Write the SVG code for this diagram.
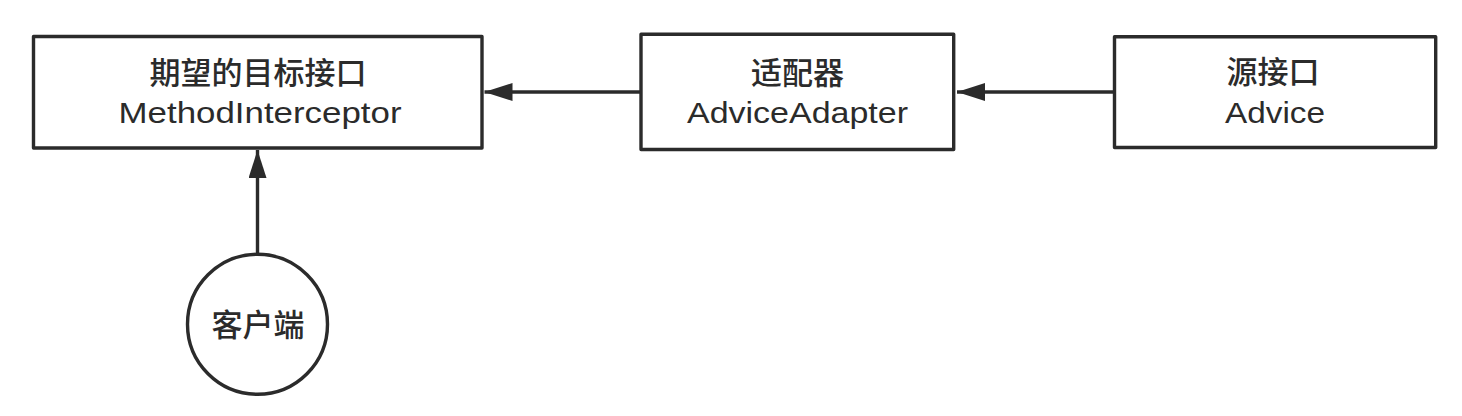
<svg xmlns="http://www.w3.org/2000/svg" width="1462" height="416" viewBox="0 0 1462 416">
<defs>
<style>
.box{fill:#ffffff;stroke:#2b2b2b;stroke-width:3.4;stroke-linejoin:round}
.cn{font-family:"Noto Sans CJK SC","Liberation Sans",sans-serif;font-size:31px;font-weight:500;fill:#2b2b2b;text-anchor:middle}
.en{font-family:"Liberation Sans","Noto Sans CJK SC",sans-serif;font-size:29px;fill:#2b2b2b;text-anchor:middle}
.edge{fill:none;stroke:#2b2b2b;stroke-width:3.4}
</style>
<marker id="arr" viewBox="0 0 28 18" refX="28" refY="9" markerWidth="28" markerHeight="18" markerUnits="userSpaceOnUse" orient="auto">
<path d="M0,0 L28,9 L0,18 Z" fill="#2b2b2b"/>
</marker>
</defs>
<rect width="1462" height="416" fill="#ffffff"/>
<g id="connectors">
<line class="edge" x1="1114.5" y1="92" x2="957" y2="92" marker-end="url(#arr)"/>
<line class="edge" x1="641" y1="92" x2="484.5" y2="92" marker-end="url(#arr)"/>
<line class="edge" x1="257.5" y1="254" x2="257.5" y2="150" marker-end="url(#arr)"/>
</g>
<g id="target">
<rect class="box" x="33.5" y="36.5" width="448.5" height="111.5"/>
<text class="cn" x="258" y="84">期望的目标接口</text>
<text class="en" x="260" y="122.5" textLength="283" lengthAdjust="spacingAndGlyphs">MethodInterceptor</text>
</g>
<g id="adapter">
<rect class="box" x="641" y="34.3" width="312.7" height="115.2"/>
<text class="cn" x="797.5" y="83.5">适配器</text>
<text class="en" x="797.5" y="122.5" textLength="221" lengthAdjust="spacingAndGlyphs">AdviceAdapter</text>
</g>
<g id="source">
<rect class="box" x="1114.5" y="36.7" width="321.2" height="110.8"/>
<text class="cn" x="1273" y="83">源接口</text>
<text class="en" x="1275" y="122.5" textLength="100" lengthAdjust="spacingAndGlyphs">Advice</text>
</g>
<g id="client">
<circle class="box" cx="257.5" cy="324.3" r="70"/>
<text class="cn" x="258" y="335.5">客户端</text>
</g>
</svg>
